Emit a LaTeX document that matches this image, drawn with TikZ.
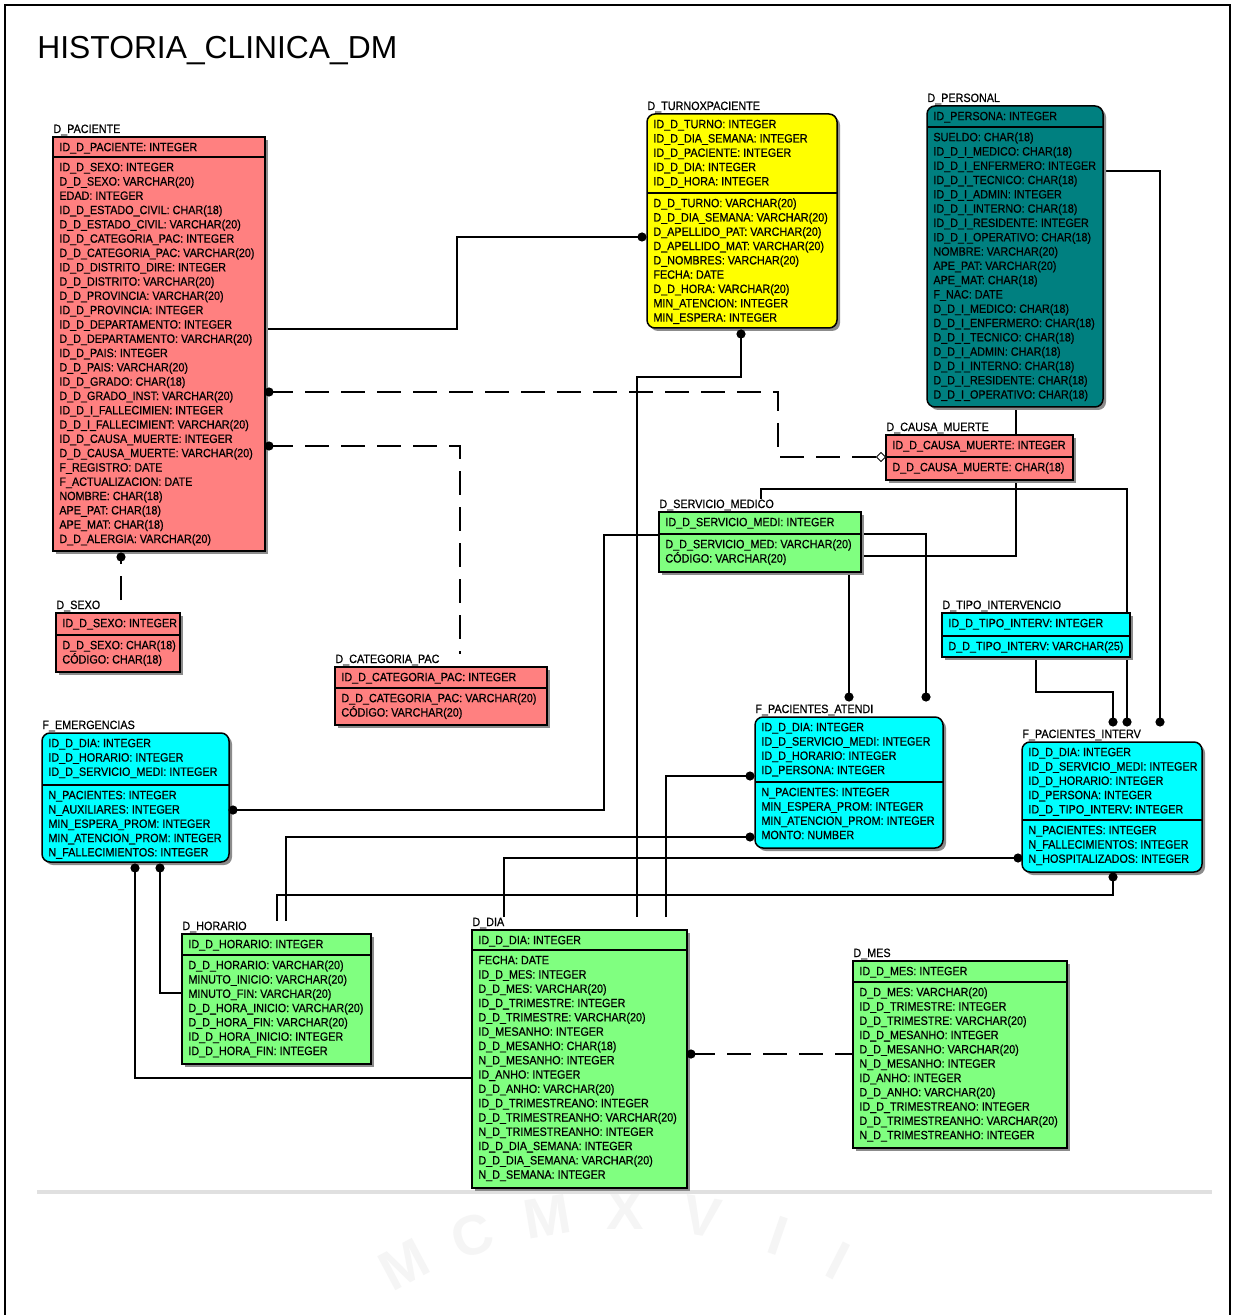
\documentclass[tikz,border=0pt]{standalone}
\usepackage{fontspec}
\setmainfont{Liberation Sans}
\newfontfamily\erfont{Liberation Sans}[FakeStretch=0.9, FakeBold=0.6]
\usetikzlibrary{fit,calc,shadows,backgrounds}

\definecolor{erpink}{HTML}{FF8080}
\definecolor{eryellow}{HTML}{FFFF00}
\definecolor{erteal}{HTML}{008080}
\definecolor{ergreen}{HTML}{80FF80}
\definecolor{ercyan}{HTML}{00FFFF}

\tikzset{
  ent/.style={draw, line width=0.75pt, inner sep=0pt, outer sep=0pt,
    drop shadow={shadow xshift=1.5pt, shadow yshift=-1.5pt, fill=black!45, opacity=1}},
  roundbox/.style={rounded corners=4pt},
  pinkbox/.style={fill=erpink},
  yellowbox/.style={fill=eryellow, roundbox},
  tealbox/.style={fill=erteal, roundbox},
  greenbox/.style={fill=ergreen},
  cyanbox/.style={fill=ercyan},
  cyanround/.style={fill=ercyan, roundbox},
  rows/.style={inner sep=0pt, anchor=north west, align=left,
    font=\erfont\fontsize{6}{7.15}\selectfont},
  entlabel/.style={inner sep=0pt, anchor=base west, text height=4.3pt, text depth=0pt,
    font=\erfont\fontsize{6}{7.15}\selectfont},
  conn/.style={line width=0.65pt},
  optconn/.style={conn, dash pattern=on 12pt off 6pt},
  wm/.style={text=black!4, inner sep=0pt, font=\fontsize{28}{28}\selectfont\bfseries},
}

% #1 id, #2 style, #3 name, #4 top-left, #5 bottom-right, #6 key divider y,
% #7 key attributes, #8 non-key attributes
\newcommand\entity[8]{%
  \coordinate (#1-nw) at (#4);
  \coordinate (#1-se) at (#5);
  \node[ent, #2, fit=(#1-nw)(#1-se)] (#1) {};
  \node[entlabel] (#1-l) at ($(#1.north west)+(0,-4)$) {#3};
  \draw[line width=0.75pt] (#1.west |- 0,#6) -- (#1.east |- 0,#6);
  \node[rows] (#1-k) at ($(#1.north west)+(6,3.8)$) {\rule{0pt}{5pt}#7};
  \node[rows] (#1-a) at ($(#1.west |- 0,#6)+(6,3.8)$) {\rule{0pt}{5pt}#8};
}

\begin{document}
\catcode`\_=12
\begin{tikzpicture}[x=0.5pt, y=-0.5pt]
\useasboundingbox (0,0) rectangle (1235,1315);

% page frame and title
\draw[line width=1pt] (5,1315) -- (5,5) -- (1230,5) -- (1230,1315);
\node[anchor=base west, inner sep=0pt, font=\fontsize{15.9}{18}\selectfont] (title) at (37,59) {HISTORIA_CLINICA_DM};

% entities
\entity{pac}{pinkbox}{D_PACIENTE}{53,137}{265,551}{157}
  {ID_D_PACIENTE: INTEGER}
  {ID_D_SEXO: INTEGER\\D_D_SEXO: VARCHAR(20)\\EDAD: INTEGER\\ID_D_ESTADO_CIVIL: CHAR(18)\\
   D_D_ESTADO_CIVIL: VARCHAR(20)\\ID_D_CATEGORIA_PAC: INTEGER\\D_D_CATEGORIA_PAC: VARCHAR(20)\\
   ID_D_DISTRITO_DIRE: INTEGER\\D_D_DISTRITO: VARCHAR(20)\\D_D_PROVINCIA: VARCHAR(20)\\
   ID_D_PROVINCIA: INTEGER\\ID_D_DEPARTAMENTO: INTEGER\\D_D_DEPARTAMENTO: VARCHAR(20)\\
   ID_D_PAIS: INTEGER\\D_D_PAIS: VARCHAR(20)\\ID_D_GRADO: CHAR(18)\\D_D_GRADO_INST: VARCHAR(20)\\
   ID_D_I_FALLECIMIEN: INTEGER\\D_D_I_FALLECIMIENT: VARCHAR(20)\\ID_D_CAUSA_MUERTE: INTEGER\\
   D_D_CAUSA_MUERTE: VARCHAR(20)\\F_REGISTRO: DATE\\F_ACTUALIZACION: DATE\\NOMBRE: CHAR(18)\\
   APE_PAT: CHAR(18)\\APE_MAT: CHAR(18)\\D_D_ALERGIA: VARCHAR(20)}

\entity{turno}{yellowbox}{D_TURNOXPACIENTE}{647,114}{837,328}{193}
  {ID_D_TURNO: INTEGER\\ID_D_DIA_SEMANA: INTEGER\\ID_D_PACIENTE: INTEGER\\ID_D_DIA: INTEGER\\ID_D_HORA: INTEGER}
  {D_D_TURNO: VARCHAR(20)\\D_D_DIA_SEMANA: VARCHAR(20)\\D_APELLIDO_PAT: VARCHAR(20)\\
   D_APELLIDO_MAT: VARCHAR(20)\\D_NOMBRES: VARCHAR(20)\\FECHA: DATE\\D_D_HORA: VARCHAR(20)\\
   MIN_ATENCION: INTEGER\\MIN_ESPERA: INTEGER}

\entity{pers}{tealbox}{D_PERSONAL}{927,106}{1103,407}{127}
  {ID_PERSONA: INTEGER}
  {SUELDO: CHAR(18)\\ID_D_I_MEDICO: CHAR(18)\\ID_D_I_ENFERMERO: INTEGER\\ID_D_I_TECNICO: CHAR(18)\\
   ID_D_I_ADMIN: INTEGER\\ID_D_I_INTERNO: CHAR(18)\\ID_D_I_RESIDENTE: INTEGER\\ID_D_I_OPERATIVO: CHAR(18)\\
   NOMBRE: VARCHAR(20)\\APE_PAT: VARCHAR(20)\\APE_MAT: CHAR(18)\\F_NAC: DATE\\D_D_I_MEDICO: CHAR(18)\\
   D_D_I_ENFERMERO: CHAR(18)\\D_D_I_TECNICO: CHAR(18)\\D_D_I_ADMIN: CHAR(18)\\D_D_I_INTERNO: CHAR(18)\\
   D_D_I_RESIDENTE: CHAR(18)\\D_D_I_OPERATIVO: CHAR(18)}

\entity{causa}{pinkbox}{D_CAUSA_MUERTE}{886,435}{1073,480}{457}
  {ID_D_CAUSA_MUERTE: INTEGER}
  {D_D_CAUSA_MUERTE: CHAR(18)}

\entity{serv}{greenbox}{D_SERVICIO_MEDICO}{659,512}{861,572}{534}
  {ID_D_SERVICIO_MEDI: INTEGER}
  {D_D_SERVICIO_MED: VARCHAR(20)\\CÓDIGO: VARCHAR(20)}

\entity{sexo}{pinkbox}{D_SEXO}{56,613}{180,672}{635}
  {ID_D_SEXO: INTEGER}
  {D_D_SEXO: CHAR(18)\\CÓDIGO: CHAR(18)}

\entity{cat}{pinkbox}{D_CATEGORIA_PAC}{335,667}{547,725}{688}
  {ID_D_CATEGORIA_PAC: INTEGER}
  {D_D_CATEGORIA_PAC: VARCHAR(20)\\CÓDIGO: VARCHAR(20)}

\entity{emer}{cyanround}{F_EMERGENCIAS}{42,733}{229,862}{785}
  {ID_D_DIA: INTEGER\\ID_D_HORARIO: INTEGER\\ID_D_SERVICIO_MEDI: INTEGER}
  {N_PACIENTES: INTEGER\\N_AUXILIARES: INTEGER\\MIN_ESPERA_PROM: INTEGER\\
   MIN_ATENCION_PROM: INTEGER\\N_FALLECIMIENTOS: INTEGER}

\entity{aten}{cyanround}{F_PACIENTES_ATENDI}{755,717}{943,848}{782}
  {ID_D_DIA: INTEGER\\ID_D_SERVICIO_MEDI: INTEGER\\ID_D_HORARIO: INTEGER\\ID_PERSONA: INTEGER}
  {N_PACIENTES: INTEGER\\MIN_ESPERA_PROM: INTEGER\\MIN_ATENCION_PROM: INTEGER\\MONTO: NUMBER}

\entity{tipo}{cyanbox}{D_TIPO_INTERVENCIO}{942,613}{1130,657}{636}
  {ID_D_TIPO_INTERV: INTEGER}
  {D_D_TIPO_INTERV: VARCHAR(25)}

\entity{interv}{cyanround}{F_PACIENTES_INTERV}{1022,742}{1202,872}{820}
  {ID_D_DIA: INTEGER\\ID_D_SERVICIO_MEDI: INTEGER\\ID_D_HORARIO: INTEGER\\ID_PERSONA: INTEGER\\
   ID_D_TIPO_INTERV: INTEGER}
  {N_PACIENTES: INTEGER\\N_FALLECIMIENTOS: INTEGER\\N_HOSPITALIZADOS: INTEGER}

\entity{hor}{greenbox}{D_HORARIO}{182,934}{371,1064}{955}
  {ID_D_HORARIO: INTEGER}
  {D_D_HORARIO: VARCHAR(20)\\MINUTO_INICIO: VARCHAR(20)\\MINUTO_FIN: VARCHAR(20)\\
   D_D_HORA_INICIO: VARCHAR(20)\\D_D_HORA_FIN: VARCHAR(20)\\ID_D_HORA_INICIO: INTEGER\\
   ID_D_HORA_FIN: INTEGER}

\entity{dia}{greenbox}{D_DIA}{472,930}{687,1188}{950}
  {ID_D_DIA: INTEGER}
  {FECHA: DATE\\ID_D_MES: INTEGER\\D_D_MES: VARCHAR(20)\\ID_D_TRIMESTRE: INTEGER\\
   D_D_TRIMESTRE: VARCHAR(20)\\ID_MESANHO: INTEGER\\D_D_MESANHO: CHAR(18)\\N_D_MESANHO: INTEGER\\
   ID_ANHO: INTEGER\\D_D_ANHO: VARCHAR(20)\\ID_D_TRIMESTREANO: INTEGER\\
   D_D_TRIMESTREANHO: VARCHAR(20)\\N_D_TRIMESTREANHO: INTEGER\\ID_D_DIA_SEMANA: INTEGER\\
   D_D_DIA_SEMANA: VARCHAR(20)\\N_D_SEMANA: INTEGER}

\entity{mes}{greenbox}{D_MES}{853,961}{1067,1148}{982}
  {ID_D_MES: INTEGER}
  {D_D_MES: VARCHAR(20)\\ID_D_TRIMESTRE: INTEGER\\D_D_TRIMESTRE: VARCHAR(20)\\
   ID_D_MESANHO: INTEGER\\D_D_MESANHO: VARCHAR(20)\\N_D_MESANHO: INTEGER\\ID_ANHO: INTEGER\\
   D_D_ANHO: VARCHAR(20)\\ID_D_TRIMESTREANO: INTEGER\\D_D_TRIMESTREANHO: VARCHAR(20)\\
   N_D_TRIMESTREANHO: INTEGER}

% relationship end points (child ends carry a dot)
\coordinate (kTurnoL) at ($(turno.west |- 0,237)+(-5,0)$);
\coordinate (kPacR1)  at ($(pac.east |- 0,392)+(4,0)$);
\coordinate (kPacR2)  at ($(pac.east |- 0,446)+(4,0)$);
\coordinate (kPacB)   at ($(pac.south -| 121,0)+(0,6)$);
\coordinate (kCausaL) at ($(causa.west |- 0,457)+(-5,0)$);
\coordinate (kTurnoB) at ($(turno.south -| 741,0)+(0,6)$);
\coordinate (kIntT1)  at ($(interv-l.north -| 1113,0)+(0,-7)$);
\coordinate (kIntT2)  at ($(interv-l.north -| 1127,0)+(0,-7)$);
\coordinate (kIntT3)  at ($(interv-l.north -| 1160,0)+(0,-7)$);
\coordinate (kAtT1)   at ($(aten-l.north -| 849,0)+(0,-7)$);
\coordinate (kAtT2)   at ($(aten-l.north -| 926,0)+(0,-7)$);
\coordinate (kEmR)    at ($(emer.east |- 0,810)+(4,0)$);
\coordinate (kIntB)   at ($(interv.south -| 1113,0)+(0,5)$);
\coordinate (kAtL1)   at ($(aten.west |- 0,776)+(-5,0)$);
\coordinate (kAtL2)   at ($(aten.west |- 0,837)+(-5,0)$);
\coordinate (kIntL)   at ($(interv.west |- 0,858)+(-4,0)$);
\coordinate (kEmB1)   at ($(emer.south -| 135,0)+(0,6)$);
\coordinate (kEmB2)   at ($(emer.south -| 160,0)+(0,6)$);
\coordinate (kDiaR)   at ($(dia.east |- 0,1054)+(4,0)$);

\begin{scope}[on background layer]
  \fill[white] (0,0) rectangle (1235,1315);
  % faint seal lettering and footer rule
  \foreach \l/\a [count=\i] in {M/118,C/109,M/99.5,X/90,V/80.5,I/71,I/63}
    \node[wm, rotate=\a-90] (wm\i) at ({625+470*cos(\a)},{1680-470*sin(\a)}) {\l};
  \draw[black!12, line width=2pt] (37,1192) -- (1212,1192);

  % relationships
  \draw[conn] (pac.east |- 0,329) -- (457,329) |- (kTurnoL);
  \draw[optconn] (kPacR1) -- (778,392) |- (kCausaL);
  \draw[optconn] (kPacR2) -- (460,446) -- (cat-l.north -| 460,0);
  \draw[optconn] (sexo-l.north -| 121,0) -- (kPacB);
  \draw[conn] (kTurnoB) -- (741,377) -| (dia-l.north -| 637,0);
  \draw[conn] (pers.east |- 0,171) -| (kIntT3);
  \draw[conn] (pers.south -| 1016,0) |- (serv.east |- 0,556);
  \draw[conn] (serv.east |- 0,534) -| (kAtT2);
  \draw[conn] (serv.south -| 849,0) -- (kAtT1);
  \draw[conn] (serv-l.north -| 761,0) -- (761,489) -| (kIntT2);
  \draw[conn] (serv.west |- 0,535) -- (604,535) |- (kEmR);
  \draw[conn] (tipo.south -| 1036,0) -- (1036,692) -| (kIntT1);
  \draw[conn] (kIntB) -- (1113,895) -| (hor-l.north -| 277,0);
  \draw[conn] (kAtL2) -- (286,837) -- (hor-l.north -| 286,0);
  \draw[conn] (dia-l.north -| 504,0) |- (kIntL);
  \draw[conn] (dia-l.north -| 666,0) |- (kAtL1);
  \draw[conn] (dia.west |- 0,1078) -| (kEmB1);
  \draw[conn] (hor.west |- 0,993) -| (kEmB2);
  \draw[optconn] (kDiaR) -- (mes.west |- 0,1054);
\end{scope}

% relationship end markers
\foreach \c in {kTurnoL,kPacR1,kPacR2,kPacB,kTurnoB,kIntT1,kIntT2,kIntT3,kAtT1,kAtT2,
                kEmR,kIntB,kAtL1,kAtL2,kIntL,kEmB1,kEmB2,kDiaR}
  \fill (\c) circle[radius=2.3pt];
\draw[fill=white, line width=0.5pt] (kCausaL) ++(-4.5,0) -- ++(4.5,-4.5) -- ++(4.5,4.5) -- ++(-4.5,4.5) -- cycle;
\end{tikzpicture}
\end{document}
